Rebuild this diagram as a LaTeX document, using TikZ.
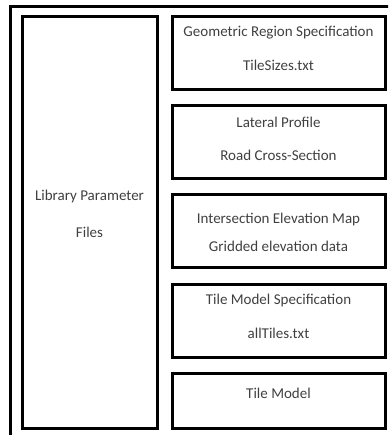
\documentclass[tikz,border=0pt]{standalone}
\usepackage{fontspec}
\setmainfont{Carlito}
\begin{document}
\begin{tikzpicture}[x=1pt,y=-1pt,
  box/.style={draw=black,line width=3pt},
  lbl/.style={text=black!75,font=\fontsize{15}{17}\selectfont,inner sep=0pt}]
\useasboundingbox (0,0) rectangle (388,435);
\clip (0,0) rectangle (388,435);
\draw[line width=3pt] (10,7) rectangle (400,450);
% left box
\draw[box] (22,17) rectangle (157,428);
\node[lbl] (l1) at (89.5,197) {Library Parameter};
\node[lbl] (l2) at (89.5,232) {Files};
% right boxes
\draw[box] (172,17) rectangle (385,90);
\node[lbl] (a1) at (278.5,33) {Geometric Region Specification};
\node[lbl] (a2) at (278.5,65) {TileSizes.txt};
\draw[box] (172,106) rectangle (385,179);
\node[lbl] (b1) at (278.5,122) {Lateral Profile};
\node[lbl] (b2) at (278.5,155) {Road Cross-Section};
\draw[box] (172,195) rectangle (385,267);
\node[lbl] (c1) at (278.5,220) {Intersection Elevation Map};
\node[lbl] (c2) at (278.5,246) {Gridded elevation data};
\draw[box] (172,284) rectangle (385,357);
\node[lbl] (d1) at (278.5,300) {Tile Model Specification};
\node[lbl] (d2) at (278.5,333) {allTiles.txt};
\draw[box] (172,373) rectangle (385,428);
\node[lbl] (e1) at (278.5,393) {Tile Model};
\end{tikzpicture}
\end{document}
